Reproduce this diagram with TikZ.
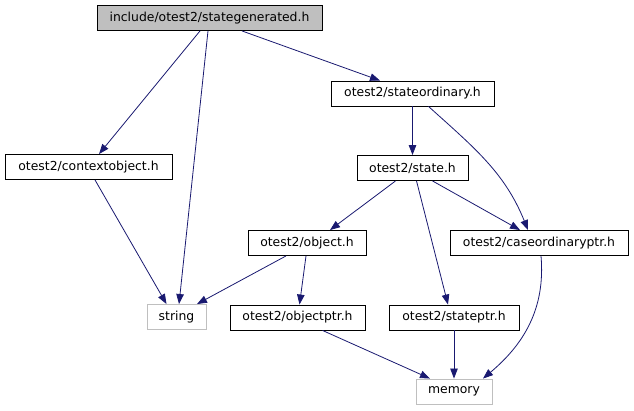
\documentclass[tikz,border=0pt]{standalone}
\usepackage{fontspec}
\setmainfont{DejaVu Sans}
\usepackage{tikz}
\usetikzlibrary{arrows.meta}
\definecolor{edgeblue}{HTML}{191970}
\definecolor{lightgrey}{HTML}{BFBFBF}
\tikzset{
  header/.style={draw=black,line width=0.9pt,rectangle,inner sep=0pt,
    minimum height=25pt,font=\fontsize{12.4}{14}\selectfont},
  mainheader/.style={header,fill=lightgrey},
  sysheader/.style={header,draw=lightgrey},
  dep/.style={-{Triangle[length=10pt,width=7.5pt]},edgeblue,line width=0.8pt}
}

\begin{document}
\begin{tikzpicture}[x=1pt,y=-1pt]
    \useasboundingbox (0,0) rectangle (634,411);

    \node[mainheader,minimum width=225pt] (stategen) at (209.5,18) {include/otest2/stategenerated.h};
    \node[header,minimum width=163pt] (stateord) at (412.5,93.5) {otest2/stateordinary.h};
    \node[header,minimum width=167pt] (ctxobj) at (88.5,167) {otest2/contextobject.h};
    \node[header,minimum width=111pt] (state) at (412.5,168) {otest2/state.h};
    \node[header,minimum width=118pt] (object) at (307,243) {otest2/object.h};
    \node[header,minimum width=178pt] (caseptr) at (539,243) {otest2/caseordinaryptr.h};
    \node[sysheader,minimum width=59pt] (string) at (176.5,317) {string};
    \node[header,minimum width=135pt] (objptr) at (297.5,317.5) {otest2/objectptr.h};
    \node[header,minimum width=130pt] (stateptr) at (454,317.5) {otest2/stateptr.h};
    \node[sysheader,minimum width=76pt] (memory) at (454,391.5) {memory};

    \draw[dep] ([xshift=-9.5pt]stategen.south) -- ([xshift=10.5pt]ctxobj.north);
    \draw[dep] ([xshift=-1.5pt]stategen.south) -- ([xshift=2.5pt]string.north);
    \draw[dep] ([xshift=32.5pt]stategen.south) -- ([xshift=-32.5pt]stateord.north);
    \draw[dep] ([xshift=6.5pt]ctxobj.south) -- ([xshift=-10pt]string.north);

    \draw[dep] (stateord.south) -- (state.north);
    \draw[dep] ([xshift=16pt]stateord.south) to[out=-42,in=112] ([xshift=-11pt]caseptr.north);

    \draw[dep] ([xshift=-17pt]state.south) -- ([xshift=23pt]object.north);
    \draw[dep] ([xshift=4pt]state.south) -- ([xshift=-6pt]stateptr.north);
    \draw[dep] ([xshift=20pt]state.south) -- ([xshift=-19pt]caseptr.north);

    \draw[dep] ([xshift=-21pt]object.south) -- ([xshift=20.5pt]string.north);
    \draw[dep] ([xshift=-1pt]object.south) -- ([xshift=2pt]objptr.north);

    \draw[dep] ([xshift=25pt]objptr.south) -- ([xshift=-24pt]memory.north);
    \draw[dep] (stateptr.south) -- (memory.north);
    \draw[dep] ([xshift=2pt]caseptr.south) to[out=-85,in=40] ([xshift=29pt]memory.north);
  \end{tikzpicture}
\end{document}
